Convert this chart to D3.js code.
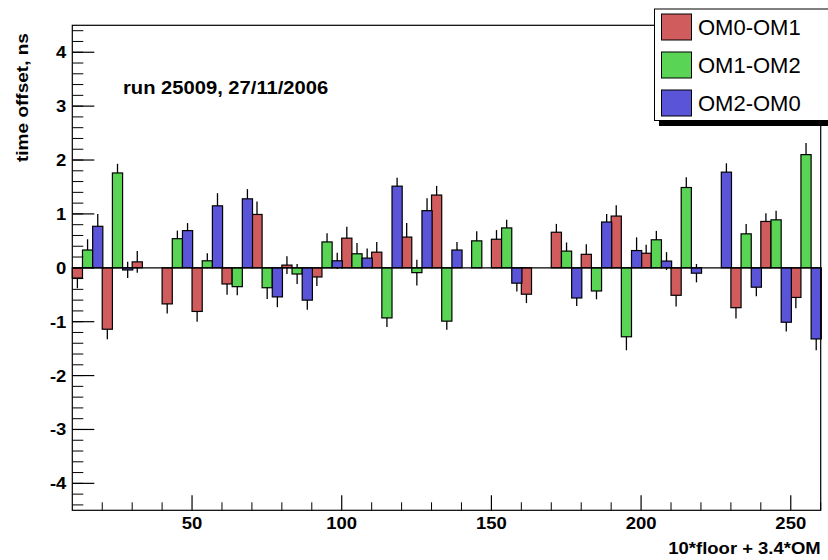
<!DOCTYPE html>
<html>
<head>
<meta charset="utf-8">
<script src="https://cdn.jsdelivr.net/npm/d3@7"></script>
<style>
  html, body { margin: 0; padding: 0; background: #fff; }
  svg { display: block; font-family: "Liberation Sans", Arial, Helvetica, sans-serif; }
</style>
</head>
<body>
<svg id="chart" width="828" height="560"></svg>
<script>
// Detector floors (x = 10*floor + 3.4*OM)
const floors = [1,2,3,4,5,6,7,8,9,10,11,12,13,14,15,16,17,18,19,20,21,22,23,24,25];

// Time offsets (ns) per floor; null = no measurement
const om0om1 = [-0.19,-1.14,0.11,-0.67,-0.81,-0.30,0.99,0.05,-0.17,0.55,0.29,0.57,1.35,null,0.53,-0.49,0.66,0.25,0.96,0.27,-0.51,null,-0.74,0.86,-0.55];
const om0om1Err = [0.19,0.185,0.2,0.18,0.19,0.2,0.24,0.165,0.17,0.21,0.19,0.26,0.17,null,0.17,0.165,0.155,0.185,0.2,0.16,0.21,null,0.2,0.15,0.2];

const om1om2 = [0.33,1.76,null,0.54,0.13,-0.35,-0.37,-0.115,0.48,0.26,-0.93,-0.09,-0.99,0.50,0.74,null,0.31,-0.43,-1.28,0.52,1.49,null,0.63,0.89,2.10];
const om1om2Err = [0.2,0.17,null,0.15,0.14,0.16,0.21,0.185,0.16,0.2,0.17,0.24,0.16,0.18,0.15,null,0.16,0.155,0.25,0.165,0.19,null,0.185,0.167,0.215];

const om2om0 = [0.77,-0.04,null,0.69,1.15,1.28,-0.54,-0.60,0.13,0.18,1.515,1.06,0.33,null,-0.285,null,-0.56,0.85,0.32,0.125,-0.10,1.775,-0.36,-1.01,-1.32];
const om2om0Err = [0.23,0.15,null,0.14,0.235,0.18,0.19,0.18,0.15,0.18,0.155,0.23,0.15,null,0.155,null,0.15,0.15,0.245,0.165,0.17,0.165,0.17,0.17,0.21];

const seriesNames = ["OM0-OM1", "OM1-OM2", "OM2-OM0"];
const seriesColors = ["#d05c5e", "#59d455", "#5954d8"];

const xTicksMajor = [50, 100, 150, 200, 250];
const yTicksMajor = [-4, -3, -2, -1, 0, 1, 2, 3, 4];

const series = [
  { name: seriesNames[0], om: 0, values: om0om1, errors: om0om1Err, color: seriesColors[0] },
  { name: seriesNames[1], om: 1, values: om1om2, errors: om1om2Err, color: seriesColors[1] },
  { name: seriesNames[2], om: 2, values: om2om0, errors: om2om0Err, color: seriesColors[2] }
];

const binWidth = 3.4;
const padL = 72.3, padR = 820.7, padT = 25.3, padB = 510.3;
const boldStretch = 1.12;   // the bold face is set slightly wide

const svg = d3.select("#chart");
const x = d3.scaleLinear().domain([10, 260]).range([padL, padR]);
const y = d3.scaleLinear().domain([-4.5, 4.5]).range([padB, padT]);

// Flatten bars
const bars = [];
series.forEach(s => {
  floors.forEach((f, i) => {
    if (s.values[i] === null) return;
    bars.push({ x0: 10 * f + 3.4 * s.om, v: s.values[i], e: s.errors[i], color: s.color });
  });
});

// Error lines (drawn underneath the bars)
svg.append("g")
  .selectAll("line")
  .data(bars)
  .join("line")
  .attr("x1", d => x(d.x0 + binWidth / 2))
  .attr("x2", d => x(d.x0 + binWidth / 2))
  .attr("y1", d => y(d.v - d.e))
  .attr("y2", d => y(d.v + d.e))
  .attr("stroke", "#000")
  .attr("stroke-width", 1.3);

// Bars
svg.append("g")
  .selectAll("rect")
  .data(bars)
  .join("rect")
  .attr("x", d => x(d.x0))
  .attr("width", d => x(d.x0 + binWidth) - x(d.x0))
  .attr("y", d => Math.min(y(d.v), y(0)))
  .attr("height", d => Math.abs(y(d.v) - y(0)))
  .attr("fill", d => d.color)
  .attr("stroke", "#000")
  .attr("stroke-width", 1.2);

// Baseline at zero
svg.append("line")
  .attr("x1", padL).attr("x2", padR)
  .attr("y1", y(0)).attr("y2", y(0))
  .attr("stroke", "#000").attr("stroke-width", 1.2);

// Frame
svg.append("rect")
  .attr("x", padL).attr("y", padT)
  .attr("width", padR - padL).attr("height", padB - padT)
  .attr("fill", "none").attr("stroke", "#000").attr("stroke-width", 1.2);

// Y axis ticks
svg.append("g").selectAll("line")
  .data(d3.range(-22, 23).map(k => k * 0.2))
  .join("line")
  .attr("x1", padL).attr("x2", padL + 11)
  .attr("y1", d => y(d)).attr("y2", d => y(d))
  .attr("stroke", "#000").attr("stroke-width", 1);
svg.append("g").selectAll("line")
  .data(yTicksMajor)
  .join("line")
  .attr("x1", padL).attr("x2", padL + 22)
  .attr("y1", d => y(d)).attr("y2", d => y(d))
  .attr("stroke", "#000").attr("stroke-width", 1.2);
svg.append("g").selectAll("text")
  .data(yTicksMajor)
  .join("text")
  .attr("transform", d => `translate(${padL - 6},${y(d)}) scale(${boldStretch},1)`)
  .attr("dy", "0.36em")
  .attr("text-anchor", "end")
  .attr("font-size", 16.5)
  .attr("font-weight", "bold")
  .text(d => d);

// X axis ticks
svg.append("g").selectAll("line")
  .data(d3.range(20, 261, 10))
  .join("line")
  .attr("x1", d => x(d)).attr("x2", d => x(d))
  .attr("y1", padB).attr("y2", d => padB - (d % 50 === 0 ? 15 : 8))
  .attr("stroke", "#000").attr("stroke-width", d => d % 50 === 0 ? 1.2 : 1);
svg.append("g").selectAll("text")
  .data(xTicksMajor)
  .join("text")
  .attr("transform", d => `translate(${x(d)},529) scale(${boldStretch},1)`)
  .attr("text-anchor", "middle")
  .attr("font-size", 16.5)
  .attr("font-weight", "bold")
  .text(d => d);

// Axis titles
svg.append("text")
  .attr("transform", `translate(${padR},554) scale(${boldStretch},1)`)
  .attr("text-anchor", "end")
  .attr("font-size", 16.5)
  .attr("font-weight", "bold")
  .text("10*floor + 3.4*OM");

svg.append("text")
  .attr("transform", `translate(28,162) rotate(-90) scale(${boldStretch},1)`)
  .attr("text-anchor", "start")
  .attr("font-size", 17)
  .attr("font-weight", "bold")
  .text("time offset, ns");

// Run annotation
svg.append("text")
  .attr("transform", `translate(123,94.3) scale(1.14,1)`)
  .attr("font-size", 17.7)
  .attr("font-weight", "bold")
  .text("run 25009, 27/11/2006");

// Legend with drop shadow
const lg = svg.append("g");
lg.append("rect")
  .attr("x", 659).attr("y", 13)
  .attr("width", 180).attr("height", 113)
  .attr("fill", "#000");
lg.append("rect")
  .attr("x", 654.5).attr("y", 9)
  .attr("width", 180).attr("height", 111.5)
  .attr("fill", "#fff").attr("stroke", "#000").attr("stroke-width", 1);
series.forEach((s, i) => {
  const cy = 27 + i * 38;
  lg.append("rect")
    .attr("x", 661.5).attr("y", cy - 13)
    .attr("width", 30).attr("height", 26)
    .attr("fill", s.color).attr("stroke", "#000").attr("stroke-width", 1);
  lg.append("text")
    .attr("x", 698)
    .attr("y", cy)
    .attr("dy", "0.36em")
    .attr("font-size", 22)
    .text(s.name);
});
</script>
</body>
</html>
